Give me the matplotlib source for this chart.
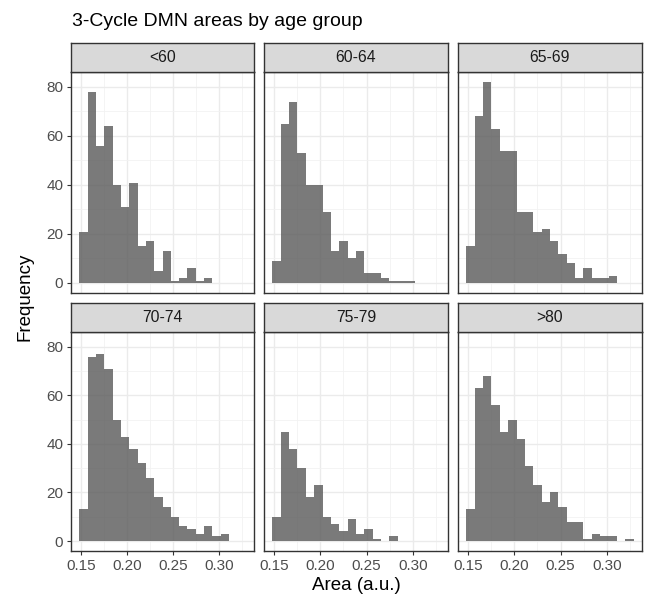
import numpy as np
import matplotlib
matplotlib.use("Agg")
import matplotlib.pyplot as plt
from matplotlib.ticker import MultipleLocator

plt.rcParams['font.family'] = ['Liberation Sans', 'DejaVu Sans']

# ---- data ----
groups = ["<60", "60-64", "65-69", "70-74", "75-79", ">80"]
bin_start = 0.1485
bin_width = 0.009
counts_lt60 = [21, 78, 56, 64, 40, 31, 41, 15, 17, 5, 13, 1, 2, 6, 1, 2]
counts_60_64 = [9, 65, 74, 53, 40, 40, 29, 13, 17, 10, 13, 4, 4, 2, 1, 1, 1]
counts_65_69 = [15, 68, 82, 63, 54, 54, 29, 29, 21, 22, 17, 12, 8, 2, 6, 2, 2, 3]
counts_70_74 = [13, 76, 77, 71, 50, 43, 38, 32, 26, 18, 14, 10, 6, 5, 3, 6, 2, 3]
counts_75_79 = [10, 45, 38, 30, 18, 23, 10, 7, 4, 9, 3, 5, 1, 0, 2]
counts_gt80 = [13, 63, 68, 56, 45, 50, 42, 31, 23, 16, 20, 14, 8, 8, 1, 3, 2, 2, 0, 1]
all_counts = [counts_lt60, counts_60_64, counts_65_69, counts_70_74, counts_75_79, counts_gt80]
x_ticks = [0.15, 0.20, 0.25, 0.30]
x_ticklabels = ["0.15", "0.20", "0.25", "0.30"]
y_ticks = [0, 20, 40, 60, 80]

W, H = 646, 598
fig = plt.figure(figsize=(W / 100, H / 100), dpi=100)

def px_axes(x0, y0, x1, y1):
    return fig.add_axes([x0 / W, 1 - y1 / H, (x1 - x0) / W, (y1 - y0) / H])

cols = [(71, 254), (264, 448), (458, 642)]
rows = [((43, 72), (72, 293)), ((303, 332), (332, 551))]

n_max = max(len(c) for c in all_counts)
data_hi = bin_start + n_max * bin_width
exp = 0.05 * (data_hi - bin_start)
xlim = (bin_start - exp, data_hi + exp)
ymax = max(max(c) for c in all_counts)
ylim = (-0.05 * ymax, ymax * 1.05)

dark = "#333333"
for i, (g, cnt) in enumerate(zip(groups, all_counts)):
    r, c = divmod(i, 3)
    (sy0, sy1), (py0, py1) = rows[r]
    x0, x1 = cols[c]
    ax = px_axes(x0, py0, x1, py1)
    ax.set_facecolor("white")
    edges = bin_start + np.arange(len(cnt) + 1) * bin_width
    ax.stairs(cnt, edges, fill=True, color="#595959", alpha=0.8,
              linewidth=0, zorder=2)
    ax.set_xlim(*xlim)
    ax.set_ylim(*ylim)
    ax.set_xticks(x_ticks)
    ax.xaxis.set_minor_locator(MultipleLocator(0.025))
    ax.set_yticks(y_ticks)
    ax.yaxis.set_minor_locator(MultipleLocator(10))
    ax.grid(True, which="major", color="#EBEBEB", linewidth=1.0, zorder=0)
    ax.grid(True, which="minor", color="#F2F2F2", linewidth=0.6, zorder=0)
    ax.set_axisbelow(True)
    for s in ax.spines.values():
        s.set_color(dark)
        s.set_linewidth(1.0)
    ax.tick_params(which="minor", length=0)
    ax.tick_params(which="major", length=3, width=0.8, color=dark,
                   labelsize=11, labelcolor="#4D4D4D", pad=2.5)
    if r == 1:
        ax.set_xticklabels(x_ticklabels)
    else:
        ax.tick_params(axis="x", which="major", labelbottom=False, length=0)
    if c != 0:
        ax.tick_params(axis="y", which="major", labelleft=False, length=0)
    # strip
    sax = px_axes(x0, sy0, x1, sy1)
    sax.set_facecolor("#D9D9D9")
    sax.set_xticks([]); sax.set_yticks([])
    for s in sax.spines.values():
        s.set_color(dark)
        s.set_linewidth(1.0)
    sax.text(0.5, 0.5, g, ha="center", va="center", fontsize=11.3,
             color="#1A1A1A", transform=sax.transAxes)

fig.text(72 / W, 1 - 21 / H, "3-Cycle DMN areas by age group", ha="left",
         va="center", fontsize=14, color="black")
fig.text((71 + 642) / 2 / W, 1 - 586 / H, "Area (a.u.)", ha="center",
         va="center", fontsize=13.5, color="black")
fig.text(25 / W, 1 - 297 / H, "Frequency", ha="center", va="center",
         rotation=90, fontsize=13.5, color="black")

fig.savefig("out.png", dpi=100, facecolor="white")
